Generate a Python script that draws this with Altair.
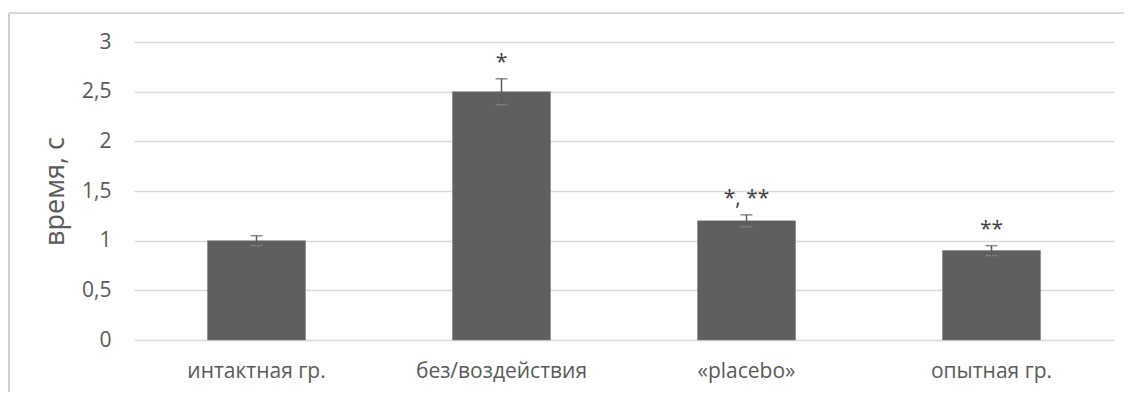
import altair as alt
import pandas as pd

groups = ["интактная гр.", "без/воздействия", "«placebo»", "опытная гр."]
values = [1.0, 2.5, 1.2, 0.9]
errors = [0.05, 0.13, 0.06, 0.05]
marks = ["", "*", "*, **", "**"]

df = pd.DataFrame({"g": groups, "v": values, "e": errors, "m": marks})
df["lo"] = df["v"] - df["e"]
df["hi"] = df["v"] + df["e"]

FONT = "Open Sans"
GRAY = "#595959"

x = alt.X("g:N", sort=groups, title=None,
          scale=alt.Scale(paddingInner=0.6, paddingOuter=0.3),
          axis=alt.Axis(labelAngle=0, labelFontSize=21, labelColor=GRAY, labelFont=FONT,
                        domain=False, ticks=False, grid=False, labelPadding=20))
y = alt.Y("v:Q", title="время, с",
          scale=alt.Scale(domain=[0, 3]),
          axis=alt.Axis(values=[0, 0.5, 1, 1.5, 2, 2.5, 3], labelExpr="replace(format(datum.value, '~g'), '.', ',')",
                        labelFontSize=21, labelColor=GRAY, labelFont=FONT, labelPadding=23,
                        titleFontSize=27, titleColor=GRAY, titleFont=FONT, titleFontWeight="normal",
                        titlePadding=12, domain=False, ticks=False,
                        gridColor="#d9d9d9", gridWidth=1.5))

base = alt.Chart(df)
bars = base.mark_bar(color="#5f5f5f", stroke="#7a7a7a", strokeWidth=0.5).encode(x=x, y=y)
err = base.mark_rule(color=GRAY, strokeWidth=1.5).encode(x=alt.X("g:N", sort=groups), y="lo:Q", y2="hi:Q")
caps = base.mark_tick(color=GRAY, thickness=1.5, size=12, orient="horizontal").encode(
    x=alt.X("g:N", sort=groups), y="hi:Q")
caps_lo = base.mark_tick(color="#8a8a8a", thickness=1.5, size=12, orient="horizontal").encode(
    x=alt.X("g:N", sort=groups), y="lo:Q")
txt = base.mark_text(fontSize=21, font=FONT, color="#404040", dy=-16, baseline="middle").encode(
    x=alt.X("g:N", sort=groups), y="hi:Q", text="m:N")

frame_top = alt.Chart(df).mark_rule(color="#d9d9d9", strokeWidth=1.5).encode(
    x=alt.value(-125), x2=alt.value(995), y=alt.value(-29))
frame_left = alt.Chart(df).mark_rule(color="#cfcfcf", strokeWidth=1.5).encode(
    x=alt.value(-125), y=alt.value(-29), y2=alt.value(360))

chart = alt.layer(frame_top, frame_left, bars, caps_lo, err, caps, txt).properties(
    width=980, height=298,
    background="white",
    autosize=alt.AutoSizeParams(type="none"),
    padding={"left": 126, "top": 34, "right": 10, "bottom": 52},
).configure_view(stroke=None)

chart.save("out.html", embed_options={"renderer": "svg", "actions": False})
